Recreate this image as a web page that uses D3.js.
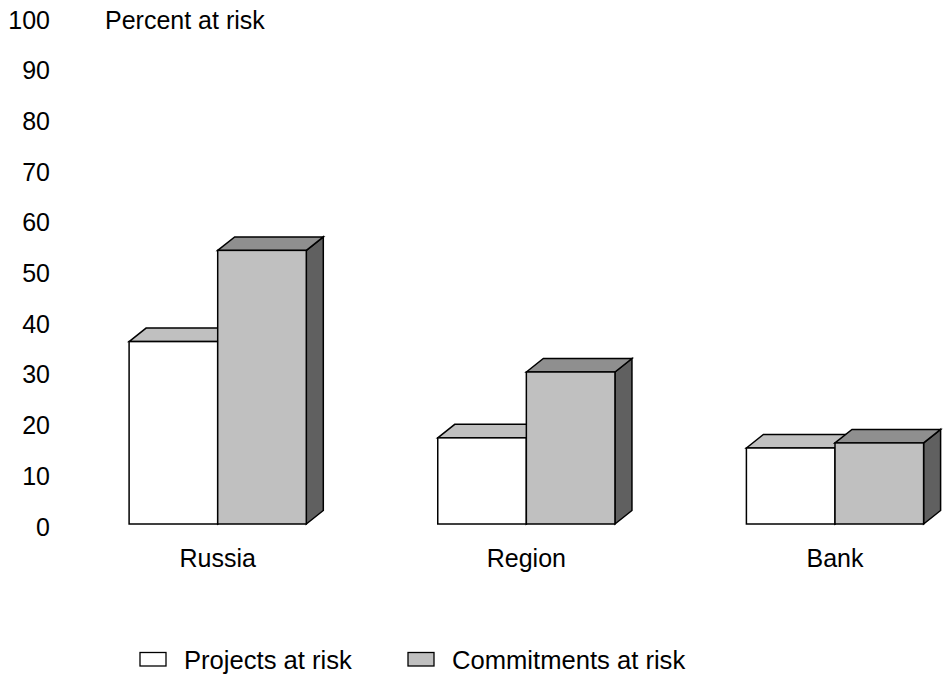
<!DOCTYPE html>
<html>
<head>
<meta charset="utf-8">
<script src="https://cdn.jsdelivr.net/npm/d3@7/dist/d3.min.js"></script>
<style>
  html, body { margin: 0; padding: 0; background: #fff; }
  svg { display: block; }
  text { font-family: "Liberation Sans", Arial, sans-serif; fill: #000; }
</style>
</head>
<body>
<svg id="chart" width="952" height="674"></svg>
<script>
const categories = ["Russia", "Region", "Bank"];
const seriesNames = ["Projects at risk", "Commitments at risk"];
const projects = [36, 17, 15];
const commitments = [54, 30, 16];
const yTicks = [0, 10, 20, 30, 40, 50, 60, 70, 80, 90, 100];
const yTitle = "Percent at risk";

const svg = d3.select("#chart");
const fontSize = 25;
const legendFont = 25.6;

const y = d3.scaleLinear().domain([0, 100]).range([524, 17.3]);
const x0 = d3.scalePoint().domain(categories).range([217.7, 835]);
const barW = 88.6;
const x1 = d3.scaleBand().domain(seriesNames).range([-barW, barW]);

const depthX = 17, depthY = 13.5;

const styles = {
  "Projects at risk": { front: "#ffffff", top: "#c0c0c0", side: "#808080" },
  "Commitments at risk": { front: "#c0c0c0", top: "#8f8f8f", side: "#606060" }
};

const data = [];
categories.forEach((c, i) => {
  data.push({ cat: c, series: seriesNames[0], value: projects[i] });
  data.push({ cat: c, series: seriesNames[1], value: commitments[i] });
});

// y tick labels
svg.append("g").selectAll("text").data(yTicks).join("text")
  .attr("x", 50)
  .attr("y", d => y(d) + 2.5)
  .attr("dy", "0.36em")
  .attr("text-anchor", "end")
  .attr("font-size", fontSize)
  .text(d => d);

svg.append("text")
  .attr("x", 105)
  .attr("y", y(100) + 2.5)
  .attr("dy", "0.36em")
  .attr("font-size", fontSize)
  .text(yTitle);

// bars
const g = svg.append("g").attr("stroke", "#000").attr("stroke-width", 1.5).attr("stroke-linejoin", "miter");
data.forEach(d => {
  const xl = x0(d.cat) + x1(d.series);
  const xr = xl + x1.bandwidth();
  const yt = y(d.value);
  const yb = y(0);
  const st = styles[d.series];
  const bg = g.append("g");
  bg.append("path")
    .attr("d", `M${xr},${yt} L${xr + depthX},${yt - depthY} L${xr + depthX},${yb - depthY} L${xr},${yb} Z`)
    .attr("fill", st.side);
  bg.append("path")
    .attr("d", `M${xl},${yt} L${xl + depthX},${yt - depthY} L${xr + depthX},${yt - depthY} L${xr},${yt} Z`)
    .attr("fill", st.top);
  bg.append("rect")
    .attr("x", xl).attr("y", yt)
    .attr("width", xr - xl).attr("height", yb - yt)
    .attr("fill", st.front);
});

// category labels
svg.append("g").selectAll("text").data(categories).join("text")
  .attr("x", d => x0(d))
  .attr("y", 567)
  .attr("text-anchor", "middle")
  .attr("font-size", fontSize)
  .text(d => d);

// legend
const legendItems = [
  { name: seriesNames[0], bx: 140, tx: 184 },
  { name: seriesNames[1], bx: 408, tx: 452 }
];
const lg = svg.append("g");
legendItems.forEach(it => {
  lg.append("rect")
    .attr("x", it.bx).attr("y", 652.5)
    .attr("width", 26).attr("height", 13.5)
    .attr("fill", styles[it.name].front)
    .attr("stroke", "#000").attr("stroke-width", 1.3);
  lg.append("text")
    .attr("x", it.tx).attr("y", 669)
    .attr("font-size", legendFont)
    .text(it.name);
});
</script>
</body>
</html>
